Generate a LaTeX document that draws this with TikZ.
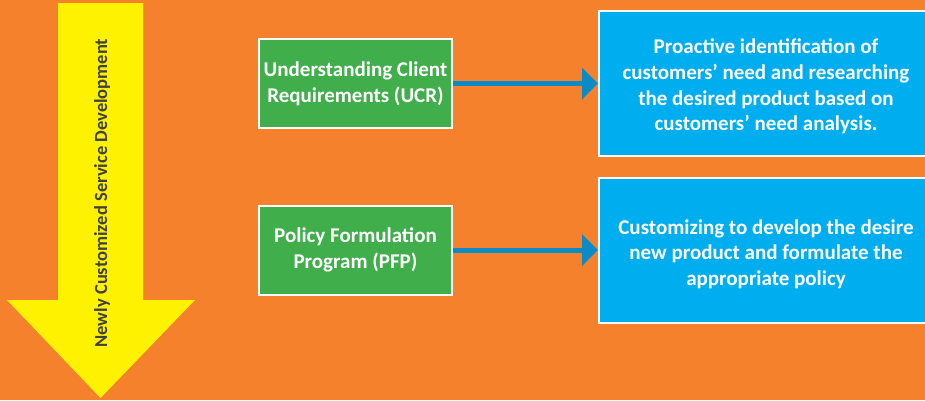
\documentclass[tikz,border=0pt]{standalone}
\usepackage{fontspec}
\setmainfont{Carlito}
\usetikzlibrary{arrows.meta}
\definecolor{bgorange}{HTML}{F5812C}
\definecolor{arrowyellow}{HTML}{FFF200}
\definecolor{boxgreen}{HTML}{3FAE4B}
\definecolor{boxblue}{HTML}{00AEEF}
\definecolor{linkblue}{HTML}{0B8BC6}
\definecolor{labelgrey}{HTML}{404040}
\tikzset{
  greenbox/.style={draw=white, line width=2pt, fill=boxgreen, text=white,
    minimum width=193pt, minimum height=89pt, align=center, inner sep=0pt,
    font=\bfseries\fontsize{21}{26}\selectfont},
  bluebox/.style={draw=white, line width=2pt, fill=boxblue,
    minimum width=334pt, minimum height=145pt, inner sep=0pt},
  bluetext/.style={text=white, align=center, inner sep=0pt,
    font=\bfseries\fontsize{21}{25.6}\selectfont},
  link/.style={draw=linkblue, line width=5pt, -{Triangle[length=16pt,width=31pt]}}
}
\begin{document}
\begin{tikzpicture}[x=1pt,y=-1pt]
\useasboundingbox (0,0) rectangle (925,400);
\clip (0,0) rectangle (925,400);
\fill[bgorange] (0,0) rectangle (925,400);
% big downward arrow
\fill[arrowyellow] (58,3) -- (143,3) -- (143,300) -- (195,300) -- (100.5,398) -- (7,300) -- (58,300) -- cycle;
\node[rotate=90, text=labelgrey, font=\bfseries\fontsize{18.5}{22}\selectfont, inner sep=0pt] (flow) at (102,193) {Newly Customized Service Development};
% green boxes
\node[greenbox] (ucr) at (355.5,83.5) {Understanding Client\\Requirements (UCR)};
\node[greenbox] (pfp) at (355.5,250) {Policy Formulation\\Program (PFP)};
% blue boxes
\node[bluebox] (d1) at (766,83.5) {};
\node[bluetext] (d1t) at ([yshift=-3pt]d1.center) {Proactive identification of\\customers’ need and researching\\the desired product based on\\customers’ need analysis.};
\node[bluebox] (d2) at (766,250) {};
\node[bluetext] (d2t) at ([yshift=-4pt]d2.center) {Customizing to develop the desire\\new product and formulate the\\appropriate policy};
% connectors
\draw[link] (ucr.east) -- (ucr.east -| d1.west);
\draw[link] (pfp.east) -- (pfp.east -| d2.west);
\end{tikzpicture}
\end{document}
